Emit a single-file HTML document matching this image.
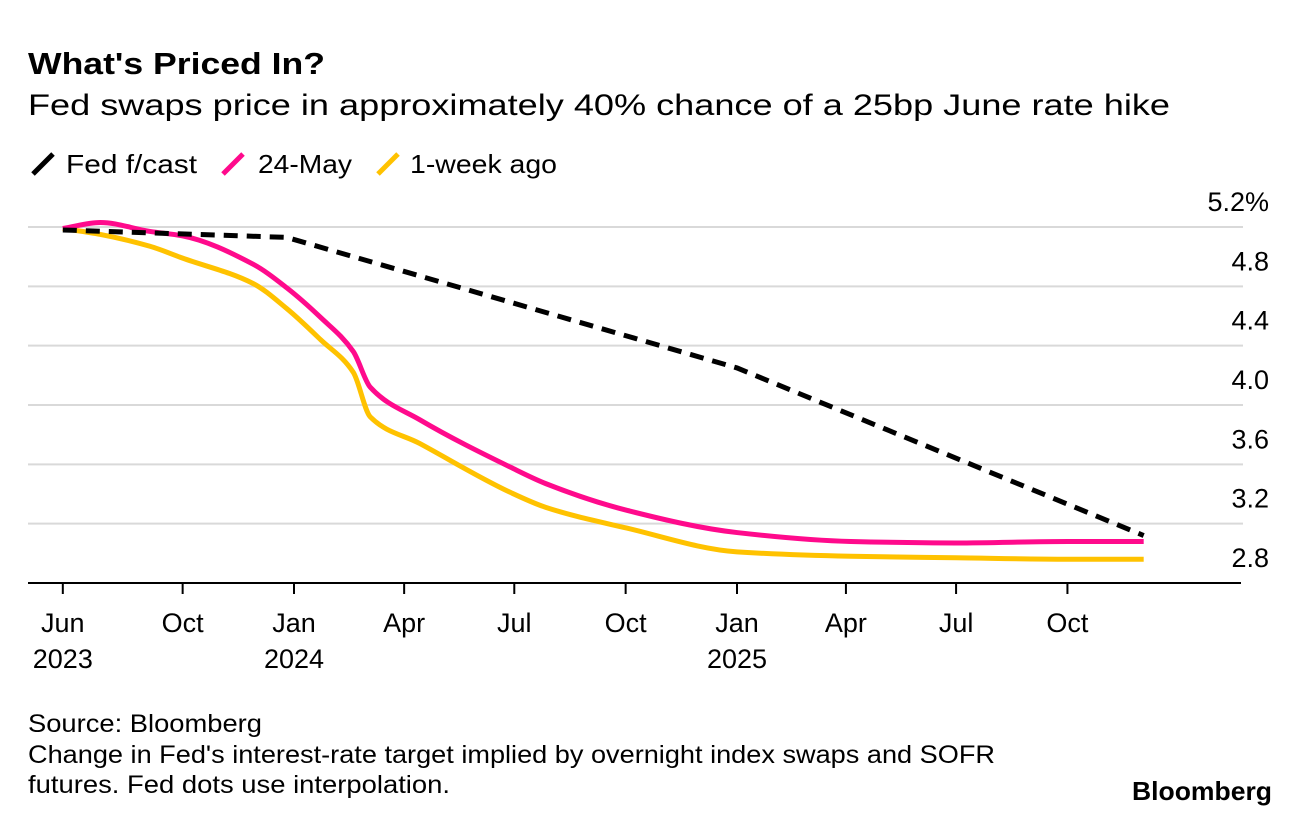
<!DOCTYPE html>
<html><head><meta charset="utf-8">
<style>
html,body{margin:0;padding:0;background:#fff;}
body{width:1296px;height:824px;overflow:hidden;font-family:"Liberation Sans",Arial,sans-serif;color:#000;}
svg text{font-family:"Liberation Sans",Arial,sans-serif;}
</style></head>
<body>
<svg id="chart" width="1296" height="824" viewBox="0 0 1296 824">
  <text x="28" y="74" font-size="31" font-weight="bold" textLength="297" lengthAdjust="spacingAndGlyphs">What's Priced In?</text>
  <text x="28" y="115" font-size="30" textLength="1142" lengthAdjust="spacingAndGlyphs">Fed swaps price in approximately 40% chance of a 25bp June rate hike</text>
  <g>
    <g>
      <line x1="33" y1="174" x2="53" y2="154" stroke="#000" stroke-width="5"/>
      <text x="66" y="173" font-size="26" textLength="131" lengthAdjust="spacingAndGlyphs">Fed f/cast</text>
    </g>
    <g>
      <line x1="223" y1="174" x2="243" y2="154" stroke="#ff0a8c" stroke-width="5"/>
      <text x="258" y="173" font-size="26" textLength="94" lengthAdjust="spacingAndGlyphs">24-May</text>
    </g>
    <g>
      <line x1="378" y1="174" x2="398" y2="154" stroke="#ffc200" stroke-width="5"/>
      <text x="410" y="173" font-size="26" textLength="147" lengthAdjust="spacingAndGlyphs">1-week ago</text>
    </g>
  </g>
  <g id="grid"></g>
  <g id="yaxis"></g>
  <g id="xaxis"></g>
  <g id="series"></g>
  <text x="28" y="732" font-size="25" textLength="234" lengthAdjust="spacingAndGlyphs">Source: Bloomberg</text>
  <text x="28" y="763" font-size="25" textLength="967" lengthAdjust="spacingAndGlyphs">Change in Fed's interest-rate target implied by overnight index swaps and SOFR</text>
  <text x="28" y="793" font-size="25" textLength="422" lengthAdjust="spacingAndGlyphs">futures. Fed dots use interpolation.</text>
  <text x="1132" y="800" font-size="26" font-weight="bold" textLength="140" lengthAdjust="spacingAndGlyphs">Bloomberg</text>
</svg>
<script>
const yTicks = [2.8, 3.2, 3.6, 4.0, 4.4, 4.8, 5.2];
const yTickLabels = ["2.8", "3.2", "3.6", "4.0", "4.4", "4.8", "5.2%"];
const xTickDates = ["2023-06-24","2023-10-01","2024-01-01","2024-04-01","2024-07-01","2024-10-01","2025-01-01","2025-04-01","2025-07-01","2025-10-01"];
const xTickMonths = ["Jun","Oct","Jan","Apr","Jul","Oct","Jan","Apr","Jul","Oct"];
const xTickYears = ["2023","","2024","","","","2025","","",""];
const swapDates = ["2023-06-24","2023-07-25","2023-09-04","2023-10-01","2023-11-28","2023-12-26","2024-01-23","2024-02-19","2024-03-04","2024-04-14","2024-06-28","2024-07-27","2024-10-02","2025-01-01","2025-04-05","2025-07-01","2025-10-01","2025-12-03"];
const may24Values = [5.19,5.23,5.17,5.14,4.95,4.79,4.59,4.36,4.12,3.90,3.58,3.47,3.29,3.14,3.08,3.07,3.08,3.08];
const weekAgoValues = [5.19,5.15,5.07,4.99,4.82,4.65,4.44,4.22,3.92,3.74,3.41,3.31,3.17,3.01,2.98,2.97,2.96,2.96];
const fedDates = ["2023-06-24","2023-12-26","2025-01-01","2025-12-03"];
const fedValues = [5.18,5.13,4.25,3.12];

const NS = "http://www.w3.org/2000/svg";
const base = Date.UTC(2024,0,1);
function xScale(d){ const t=(Date.parse(d+"T00:00:00Z")-base)/86400000; return 294 + t*(443/366); }
function yScale(v){ return 583 - (v-2.8)*(356/2.4); }
function mk(tag, attrs, parent){ const e=document.createElementNS(NS,tag); for(const k in attrs) e.setAttribute(k,attrs[k]); parent.appendChild(e); return e; }

const grid=document.getElementById('grid'), yaxis=document.getElementById('yaxis'), xaxis=document.getElementById('xaxis'), series=document.getElementById('series');
yTicks.forEach((v,i)=>{
  const y=yScale(v);
  if(i>0){
    const g=mk('line',{x1:28,x2:1243,y1:y,y2:y,stroke:'#d9d9d9','stroke-width':2},grid);
    
    
  }
  const t=mk('text',{x:1269,y:y-16,'font-size':27,'text-anchor':'end'},yaxis);
  t.textContent=yTickLabels[i];
  
  
});
const ax=mk('line',{x1:28,x2:1241,y1:583,y2:583,stroke:'#000','stroke-width':2},xaxis);


xTickDates.forEach((d,i)=>{
  const x=xScale(d);
  const tk=mk('line',{x1:x,x2:x,y1:583,y2:594,stroke:'#000','stroke-width':2},xaxis);
  
  
  const t=mk('text',{x:x,y:632,'font-size':27,'text-anchor':'middle'},xaxis);
  t.textContent=xTickMonths[i];
  
  
  if(xTickYears[i]){
    const t2=mk('text',{x:x,y:668,'font-size':27,'text-anchor':'middle'},xaxis);
    t2.textContent=xTickYears[i];
    
    
  }
});
function monotonePath(pts){
  const n=pts.length; if(n<2) return '';
  const dx=[],s=[],m=[];
  for(let i=0;i<n-1;i++){dx[i]=pts[i+1][0]-pts[i][0]; s[i]=(pts[i+1][1]-pts[i][1])/dx[i];}
  m[0]=s[0]; m[n-1]=s[n-2];
  for(let i=1;i<n-1;i++){ m[i]=(s[i-1]*s[i]<=0)?0:(3*(dx[i-1]+dx[i]))/((2*dx[i]+dx[i-1])/s[i-1]+(dx[i]+2*dx[i-1])/s[i]); }
  let d='M'+pts[0][0]+','+pts[0][1];
  for(let i=0;i<n-1;i++){
    const h=dx[i];
    d+=' C'+(pts[i][0]+h/3)+','+(pts[i][1]+m[i]*h/3)+' '+(pts[i+1][0]-h/3)+','+(pts[i+1][1]-m[i+1]*h/3)+' '+pts[i+1][0]+','+pts[i+1][1];
  }
  return d;
}
const wk=mk('path',{d:monotonePath(swapDates.map((d,i)=>[xScale(d),yScale(weekAgoValues[i])])),fill:'none',stroke:'#ffc200','stroke-width':5,'stroke-linejoin':'round'},series);


const pk=mk('path',{d:monotonePath(swapDates.map((d,i)=>[xScale(d),yScale(may24Values[i])])),fill:'none',stroke:'#ff0a8c','stroke-width':5,'stroke-linejoin':'round'},series);


const fd=mk('path',{d:'M'+fedDates.map((d,i)=>xScale(d)+','+yScale(fedValues[i])).join(' L'),fill:'none',stroke:'#000','stroke-width':5,'stroke-dasharray':'14,9'},series);


</script>
</body></html>
